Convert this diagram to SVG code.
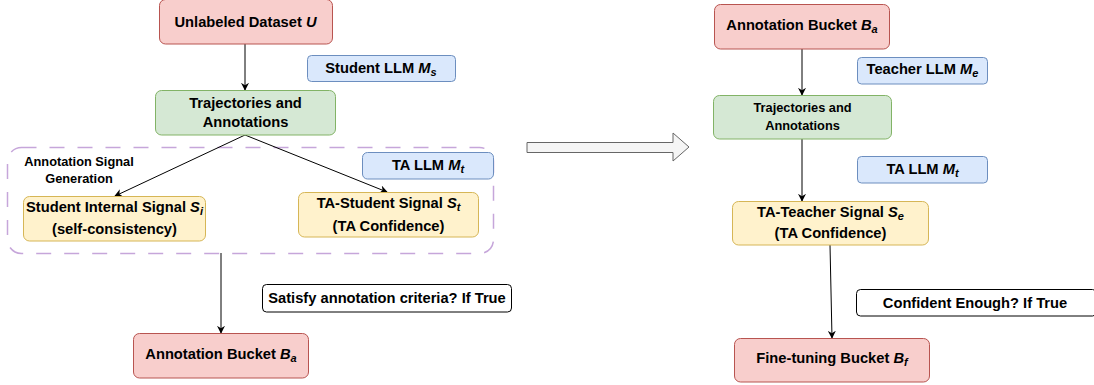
<svg xmlns="http://www.w3.org/2000/svg" width="1094" height="385" viewBox="0 0 1094 385">
<style>
text{font-family:"Liberation Sans",Arial,sans-serif;font-weight:bold;fill:#000;text-anchor:middle}
.t14{font-size:14.7px}
.t12{font-size:12.8px}
.red{fill:#f8cecc;stroke:#b85450;stroke-width:1}
.green{fill:#d5e8d4;stroke:#82b366;stroke-width:1}
.blue{fill:#dae8fc;stroke:#6c8ebf;stroke-width:1}
.yellow{fill:#fff2cc;stroke:#d6b656;stroke-width:1}
.plain{fill:#fff;stroke:#000;stroke-width:1}
.edge{fill:none;stroke:#000;stroke-width:1;marker-end:url(#arr)}
.it{font-style:italic}
</style>
<defs>
<marker id="arr" viewBox="0 0 10 10" refX="9" refY="5" markerWidth="8" markerHeight="8" orient="auto" markerUnits="userSpaceOnUse">
<path d="M0,0 L10,5 L0,10 L3,5 Z" fill="#000"/>
</marker>
</defs>

<g id="group-annotation-signal">
<rect x="7.5" y="147.5" width="486" height="106" rx="14" ry="14" fill="none" stroke="#c6a6da" stroke-width="1.5" stroke-dasharray="15,13"/>
<text class="t12" x="79" y="166">Annotation Signal</text>
<text class="t12" x="79" y="183">Generation</text>
</g>

<g id="connectors">
<line class="edge" x1="245" y1="44" x2="245" y2="90"/>
<line class="edge" x1="245" y1="135" x2="115" y2="196"/>
<line class="edge" x1="245" y1="135" x2="387" y2="192"/>
<line class="edge" x1="221" y1="253" x2="221" y2="333"/>
<line class="edge" x1="802" y1="49" x2="802" y2="95"/>
<line class="edge" x1="802" y1="139" x2="802" y2="201"/>
<line class="edge" x1="830" y1="245" x2="832" y2="338"/>
<path id="big-arrow" d="M527,142.5 L673,142.5 L673,133 L689,147 L673,161 L673,152.5 L527,152.5 Z" fill="#f5f5f5" stroke="#666" stroke-width="1"/>
</g>

<g id="unlabeled-dataset">
<rect class="red" x="159.5" y="-0.5" width="173" height="44.5" rx="6"/>
<text class="t14" x="245.5" y="27">Unlabeled Dataset <tspan class="it">U</tspan></text>
</g>

<g id="student-llm">
<rect class="blue" x="307.5" y="55.5" width="148" height="26" rx="4"/>
<text class="t14" x="381" y="73">Student LLM <tspan class="it">M</tspan><tspan class="it" font-size="11" dy="3">s</tspan></text>
</g>

<g id="trajectories-left">
<rect class="green" x="155.5" y="90.5" width="180" height="44.5" rx="6"/>
<text class="t14" x="245.5" y="108">Trajectories and</text>
<text class="t14" x="245.5" y="127">Annotations</text>
</g>

<g id="ta-llm-left">
<rect class="blue" x="362.5" y="152.5" width="131" height="26.5" rx="5"/>
<text class="t14" x="428" y="170">TA LLM <tspan class="it">M</tspan><tspan class="it" font-size="11" dy="3">t</tspan></text>
</g>

<g id="student-internal-signal">
<rect class="yellow" x="23.5" y="196.5" width="182" height="44.5" rx="6"/>
<text class="t14" x="114.5" y="212">Student Internal Signal <tspan class="it">S</tspan><tspan class="it" font-size="11" dy="3">i</tspan></text>
<text class="t14" x="114.5" y="234">(self-consistency)</text>
</g>

<g id="ta-student-signal">
<rect class="yellow" x="298.5" y="192.5" width="180" height="44.5" rx="6"/>
<text class="t14" x="388.5" y="208">TA-Student Signal <tspan class="it">S</tspan><tspan class="it" font-size="11" dy="3">t</tspan></text>
<text class="t14" x="388.5" y="231">(TA Confidence)</text>
</g>

<g id="satisfy-criteria">
<rect class="plain" x="262.5" y="284.5" width="249" height="27.5" rx="4"/>
<text class="t14" x="387" y="303">Satisfy annotation criteria? If True</text>
</g>

<g id="annotation-bucket-left">
<rect class="red" x="133.5" y="333.5" width="175" height="44.5" rx="6"/>
<text class="t14" x="221" y="359">Annotation Bucket <tspan class="it">B</tspan><tspan class="it" font-size="11" dy="3">a</tspan></text>
</g>

<g id="annotation-bucket-right">
<rect class="red" x="714.5" y="4.5" width="175" height="44.5" rx="6"/>
<text class="t14" x="802" y="30">Annotation Bucket <tspan class="it">B</tspan><tspan class="it" font-size="11" dy="3">a</tspan></text>
</g>

<g id="teacher-llm">
<rect class="blue" x="857.5" y="57.5" width="130" height="26.5" rx="4"/>
<text class="t14" x="922.5" y="74">Teacher LLM <tspan class="it">M</tspan><tspan class="it" font-size="11" dy="3">e</tspan></text>
</g>

<g id="trajectories-right">
<rect class="green" x="713.5" y="95.5" width="178" height="43.5" rx="6"/>
<text class="t12" x="802.5" y="112">Trajectories and</text>
<text class="t12" x="802.5" y="130">Annotations</text>
</g>

<g id="ta-llm-right">
<rect class="blue" x="857.5" y="156.5" width="130" height="26.5" rx="4"/>
<text class="t14" x="922.5" y="174">TA LLM <tspan class="it">M</tspan><tspan class="it" font-size="11" dy="3">t</tspan></text>
</g>

<g id="ta-teacher-signal">
<rect class="yellow" x="732.5" y="201.5" width="196" height="43.5" rx="6"/>
<text class="t14" x="830.5" y="217">TA-Teacher Signal <tspan class="it">S</tspan><tspan class="it" font-size="11" dy="3">e</tspan></text>
<text class="t14" x="830.5" y="238">(TA Confidence)</text>
</g>

<g id="confident-enough">
<rect class="plain" x="856.5" y="289.5" width="240" height="26.5" rx="4"/>
<text class="t14" x="975" y="308">Confident Enough? If True</text>
</g>

<g id="finetuning-bucket">
<rect class="red" x="734.5" y="338.5" width="195" height="43.5" rx="6"/>
<text class="t14" x="832" y="363">Fine-tuning Bucket <tspan class="it">B</tspan><tspan class="it" font-size="11" dy="3">f</tspan></text>
</g>
</svg>
